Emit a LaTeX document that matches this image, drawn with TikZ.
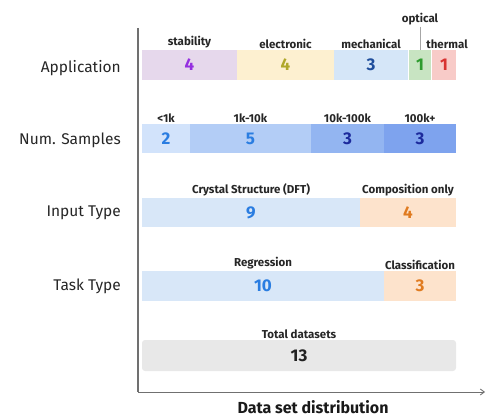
\documentclass[tikz,border=0pt]{standalone}
\usepackage{fontspec}
\setmainfont{Fira Sans}
\usetikzlibrary{arrows.meta}
\definecolor{axisgray}{HTML}{707070}
\definecolor{stabbg}{HTML}{E6D8EC}\definecolor{stabfg}{HTML}{9530E0}
\definecolor{elecbg}{HTML}{FDF0D0}\definecolor{elecfg}{HTML}{B0A82A}
\definecolor{mechbg}{HTML}{D5E6F8}\definecolor{mechfg}{HTML}{1F4E9C}
\definecolor{optbg}{HTML}{C8E4C2}\definecolor{optfg}{HTML}{2E9B2E}
\definecolor{thermbg}{HTML}{F8CBC8}\definecolor{thermfg}{HTML}{D83232}
\definecolor{sa}{HTML}{D2E3FB}\definecolor{sb}{HTML}{B3CDF6}
\definecolor{sc}{HTML}{93B5F1}\definecolor{sd}{HTML}{7EA3EE}
\definecolor{bluefg}{HTML}{2A7DE1}\definecolor{navyfg}{HTML}{1C2A9C}
\definecolor{crysbg}{HTML}{D8E7F8}\definecolor{compbg}{HTML}{FDE3CC}\definecolor{compfg}{HTML}{E07B20}
\definecolor{totbg}{HTML}{E8E8E8}\definecolor{totfg}{HTML}{222222}
\begin{document}
\begin{tikzpicture}[x=1pt,y=-1pt,
  seg/.style={draw=none,inner sep=0pt,outer sep=0pt,font=\fontsize{17}{17}\selectfont\bfseries},
  lab/.style={anchor=south,inner sep=1.5pt,font=\fontsize{11.5}{12}\selectfont\bfseries,text=black!85},
  rowlab/.style={anchor=east,inner sep=0pt,font=\fontsize{15.5}{16}\selectfont,text=black!85}]
\useasboundingbox (0,0) rectangle (486,417);
% axes
\coordinate (ytop) at (138,28);
\coordinate (org) at (138,392);
\coordinate (xend) at (485,392);
\draw[axisgray,line width=1.1pt] (ytop) -- (org);
\draw[axisgray,line width=0.9pt,-{Straight Barb[length=4pt,width=6pt]}] (org) -- (xend);
% row labels
\node[rowlab] (lapp) at (121,68) {Application};
\node[rowlab] (lnum) at (121,140) {Num. Samples};
\node[rowlab] (linp) at (121,213) {Input Type};
\node[rowlab] (ltask) at (121,286) {Task Type};
% Application
\node[seg,fill=stabbg,text=stabfg,minimum width=95pt,minimum height=30pt] (stab) at (189.5,65) {4};
\node[seg,fill=elecbg,text=elecfg,minimum width=97pt,minimum height=30pt] (elec) at (285.5,65) {4};
\node[seg,fill=mechbg,text=mechfg,minimum width=74pt,minimum height=30pt] (mech) at (371,65) {3};
\node[seg,fill=optbg,text=optfg,minimum width=22pt,minimum height=30pt] (opt) at (420,65) {1};
\node[seg,fill=thermbg,text=thermfg,minimum width=24pt,minimum height=30pt] (therm) at (444,65) {1};
\node[lab] (tstab) at (stab.north) {stability};
\node[lab] (telec) at (elec.north) {electronic};
\node[lab] (tmech) at (mech.north) {mechanical};
\node[lab] (ttherm) at ([xshift=3pt]therm.north) {thermal};
\node[lab,anchor=center] (topt) at (420,19) {optical};
\draw[black!35,line width=1pt] (topt.south) -- (opt.north);
% Num samples
\node[seg,fill=sa,text=bluefg,minimum width=48pt,minimum height=29pt] (s1) at (166,138.5) {2};
\node[seg,fill=sb,text=bluefg,minimum width=121pt,minimum height=29pt] (s2) at (250.5,138.5) {5};
\node[seg,fill=sc,text=navyfg,minimum width=73pt,minimum height=29pt] (s3) at (347.5,138.5) {3};
\node[seg,fill=sd,text=navyfg,minimum width=72pt,minimum height=29pt] (s4) at (420,138.5) {3};
\node[lab] (ts1) at (s1.north) {<1k};
\node[lab] (ts2) at (s2.north) {1k-10k};
\node[lab] (ts3) at (s3.north) {10k-100k};
\node[lab] (ts4) at (s4.north) {100k+};
% Input type
\node[seg,fill=crysbg,text=bluefg,minimum width=218pt,minimum height=29pt] (crys) at (251,212.5) {9};
\node[seg,fill=compbg,text=compfg,minimum width=96pt,minimum height=29pt] (comp) at (408,212.5) {4};
\node[lab] (tcrys) at (crys.north) {Crystal Structure (DFT)};
\node[lab] (tcomp) at (comp.north) {Composition only};
% Task type
\node[seg,fill=crysbg,text=bluefg,minimum width=242pt,minimum height=30pt] (reg) at (263,286) {10};
\node[seg,fill=compbg,text=compfg,minimum width=72pt,minimum height=30pt] (cls) at (420,286) {3};
\node[lab] (treg) at (reg.north) {Regression};
\node[lab] (tcls) at (cls.north) {Classification};
% Total
\node[seg,fill=totbg,text=totfg,rounded corners=3pt,minimum width=314pt,minimum height=31pt] (tot) at (299,355.5) {13};
\node[lab] (ttot) at (tot.north) {Total datasets};
% title
\node[anchor=base,inner sep=0pt,font=\fontsize{16}{17}\selectfont\bfseries,text=black!90] (title) at (313,413.5) {Data set distribution};
\end{tikzpicture}
\end{document}
